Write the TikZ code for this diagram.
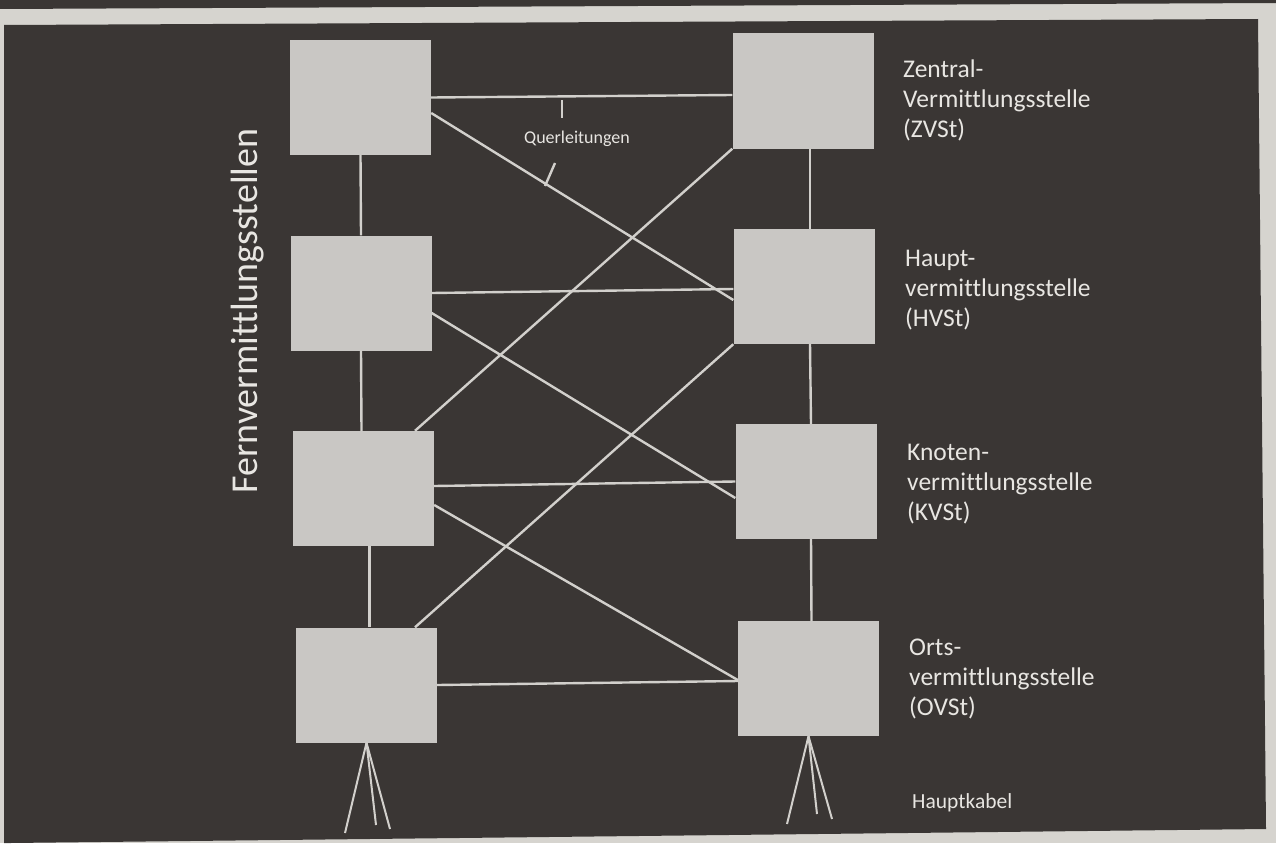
\documentclass[tikz,border=0pt]{standalone}
\usepackage{fontspec}
\setmainfont{Carlito}[Ligatures={NoCommon}]
\definecolor{paper}{HTML}{D6D4CF}
\definecolor{slide}{HTML}{3A3634}
\definecolor{boxgray}{HTML}{C9C7C4}
\definecolor{linegray}{HTML}{D2D0CC}
\definecolor{txt}{HTML}{E8E6E2}
\tikzset{
  station/.style={fill=boxgray, draw=none, minimum width=141pt, minimum height=115pt, inner sep=0pt},
  wire/.style={draw=linegray, line width=2.4pt},
  lbl/.style={text=txt, font=\fontsize{25.5}{30}\selectfont, align=left, anchor=north west, inner sep=0pt}
}
\begin{document}
\begin{tikzpicture}[x=1pt,y=-1pt]
\useasboundingbox (0,0) rectangle (1276,843);
\fill[paper] (0,0) rectangle (1276,843);
\fill[slide] (0,0) -- (1276,0) -- (1276,3) -- (0,9) -- cycle;
\fill[slide] (4,25) -- (1258,19) -- (1266,829) -- (10,843) -- (4,843) -- cycle;

% stations
\node[station] (L1) at (360.5,97.5) {};
\node[station] (L2) at (361,293) {};
\node[station] (L3) at (363.5,488.5) {};
\node[station] (L4) at (366.5,685) {};
\node[station] (R1) at (803,91) {};
\node[station] (R2) at (804,286.5) {};
\node[station] (R3) at (806,481.5) {};
\node[station] (R4) at (808.5,678.5) {};

% horizontal lines
\draw[wire] (L1.east) -- ([yshift=-4pt]R1.west);
\draw[wire] (L2.east) -- ([yshift=-2.5pt]R2.west);
\draw[wire] ([yshift=2.5pt]L3.east) -- (R3.west);
\draw[wire] (L4.east) -- ([yshift=-2.5pt]R4.west);

% vertical lines
\draw[wire] (L1.south) -- (L2.north);
\draw[wire] (L2.south) -- ([xshift=-2pt]L3.north);
\draw[wire] ([xshift=6pt]L3.south) -- ([xshift=3pt]L4.north);
\draw[wire] ([xshift=7pt]R1.south) -- ([xshift=6pt]R2.north);
\draw[wire] ([xshift=6pt]R2.south) -- ([xshift=5pt]R3.north);
\draw[wire] ([xshift=5pt]R3.south) -- ([xshift=3pt]R4.north);

% diagonals
\draw[wire] ([yshift=-15.5pt]L1.east) -- ([yshift=-13.5pt]R2.west);
\draw[wire] ([yshift=-20pt]L2.east) -- ([yshift=-16.5pt]R3.west);
\draw[wire] ([yshift=-16.5pt]L3.east) -- ([yshift=-1.5pt]R4.west);
\draw[wire] (R1.south west) -- ([xshift=51.5pt]L3.north);
\draw[wire] (R2.south west) -- ([xshift=48.5pt]L4.north);

% Querleitungen
\node[text=txt, font=\fontsize{18}{20}\selectfont, inner sep=0pt, anchor=base] (Q) at (577,143) {Querleitungen};
\coordinate (q1a) at (562,100);
\coordinate (q1b) at (562,118);
\coordinate (q2a) at (555,163);
\coordinate (q2b) at (545,186);
\draw[wire] (q1a) -- (q1b);
\draw[wire] (q2a) -- (q2b);

% Hauptkabel fans
\coordinate (fl1) at (345,833);
\coordinate (fl2) at (376,825);
\coordinate (fl3) at (390,829);
\coordinate (fr1) at (787,824);
\coordinate (fr2) at (817,814);
\coordinate (fr3) at (832,819);
\draw[wire, line width=2pt] (L4.south) -- (fl1);
\draw[wire, line width=2pt] (L4.south) -- (fl2);
\draw[wire, line width=2pt] (L4.south) -- (fl3);
\draw[wire, line width=2pt] (R4.south) -- (fr1);
\draw[wire, line width=2pt] (R4.south) -- (fr2);
\draw[wire, line width=2pt] (R4.south) -- (fr3);

% labels
\node[lbl] (tZ) at (903,60) {Zentral-\\Vermittlungsstelle\\(ZVSt)};
\node[lbl] (tH) at (905,250) {Haupt-\\vermittlungsstelle\\(HVSt)};
\node[lbl] (tK) at (907,444) {Knoten-\\vermittlungsstelle\\(KVSt)};
\node[lbl] (tO) at (909,639) {Orts-\\vermittlungsstelle\\(OVSt)};
\node[text=txt, font=\fontsize{21.5}{24}\selectfont, inner sep=0pt, anchor=base west] (tHK) at (912,808) {Hauptkabel};
\node[text=txt, font=\fontsize{38}{40}\selectfont, inner sep=0pt, anchor=base, rotate=90] (tF) at (257,311) {Fernvermittlungsstellen};
\end{tikzpicture}
\end{document}
